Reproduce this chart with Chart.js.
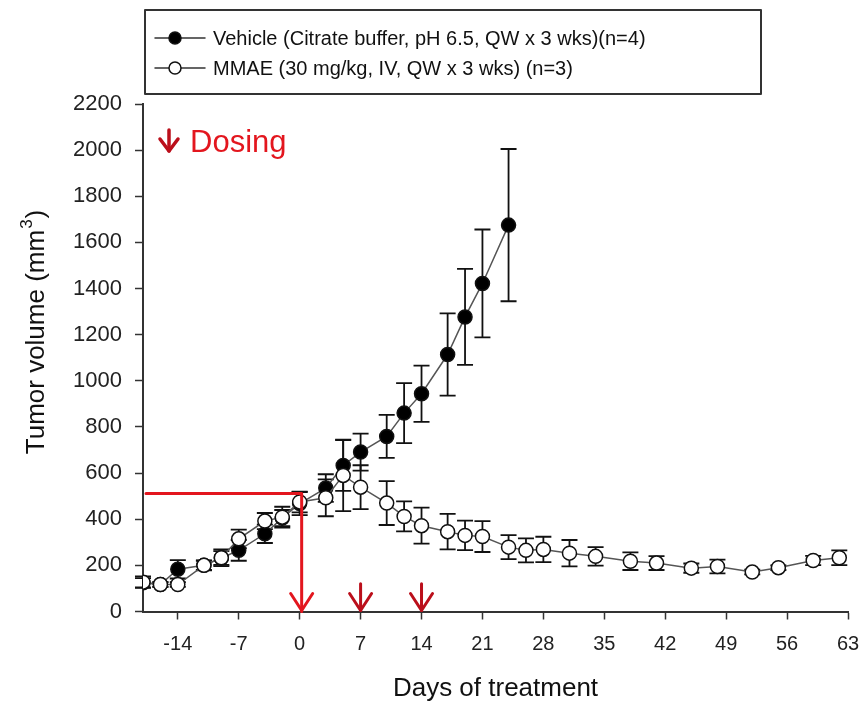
<!DOCTYPE html>
<html>
<head>
<meta charset="utf-8">
<script src="https://cdn.jsdelivr.net/npm/chart.js@4/dist/chart.umd.min.js"></script>
<style>
  html, body { margin: 0; padding: 0; background: #fff; }
  #wrap { width: 862px; height: 704px; position: relative; }
</style>
</head>
<body>
<div id="wrap"><canvas id="chart" width="862" height="704"></canvas></div>
<script>
// data
const vehicleDays = [-18, -16, -14, -11, -9, -7, -4, -2, 0, 3, 5, 7, 10, 12, 14, 17, 19, 21, 24]
const vehicleMean = [125, 117, 183, 200, 232, 265, 337, 405, 468, 535, 633, 691, 759, 860, 944, 1114, 1277, 1422, 1675]
const vehicleErr = [20, 10, 40, 20, 30, 45, 40, 35, 50, 60, 110, 80, 93, 130, 122, 178, 208, 234, 330]

const mmaeDays = [-18, -16, -14, -11, -9, -7, -4, -2, 0, 3, 5, 7, 10, 12, 14, 17, 19, 21, 24, 26, 28, 31, 34, 38, 41, 45, 48, 52, 55, 59, 62]
const mmaeMean = [127, 117, 117, 200, 233, 315, 392, 409, 475, 493, 590, 539, 470, 412, 372, 346, 330, 325, 279, 265, 269, 253, 239, 218, 210, 188, 195, 171, 190, 221, 233]
const mmaeErr = [25, 10, 10, 22, 36, 40, 35, 45, 45, 80, 155, 95, 95, 65, 78, 77, 64, 67, 52, 52, 55, 57, 40, 38, 30, 20, 30, 10, 10, 20, 32]

const xTicks = [-14, -7, 0, 7, 14, 21, 28, 35, 42, 49, 56, 63]
const doseDays = [0, 7, 14]
const doseLevel = 512      // red guide line on day 0
const doseArrowLen = 120   // small arrows, in mm3

const legendLabels = [
  'Vehicle (Citrate buffer, pH 6.5, QW x 3 wks)(n=4)',
  'MMAE (30 mg/kg, IV, QW x 3 wks) (n=3)'
]

const FONT = "'Liberation Sans', Arial, sans-serif"
const RED = '#e3161e'
const DARKRED = '#bb0f1b'

Chart.defaults.font.family = FONT
Chart.defaults.color = '#222'

const toPoints = (xs, ys) => xs.map((x, i) => ({ x: x, y: ys[i] }))

// error bars under the lines/markers
const errorBars = {
  id: 'errorBars',
  beforeDatasetsDraw(chart) {
    const { ctx, scales: { x, y } } = chart
    const sets = [[vehicleDays, vehicleMean, vehicleErr], [mmaeDays, mmaeMean, mmaeErr]]
    ctx.save()
    ctx.strokeStyle = '#111'
    ctx.lineWidth = 1.8
    sets.forEach(([d, m, e]) => {
      d.forEach((day, i) => {
        const px = x.getPixelForValue(day)
        const top = y.getPixelForValue(m[i] + e[i])
        const bot = y.getPixelForValue(Math.max(0, m[i] - e[i]))
        ctx.beginPath()
        ctx.moveTo(px, top); ctx.lineTo(px, bot)
        ctx.moveTo(px - 8, top); ctx.lineTo(px + 8, top)
        ctx.moveTo(px - 8, bot); ctx.lineTo(px + 8, bot)
        ctx.stroke()
      })
    })
    ctx.restore()
  }
}

function arrowHead(ctx, px, py) {
  ctx.beginPath()
  ctx.moveTo(px - 11, py - 17)
  ctx.lineTo(px, py)
  ctx.lineTo(px + 11, py - 17)
  ctx.stroke()
}

// dosing marks, legend box and y title
const extras = {
  id: 'extras',
  afterDraw(chart) {
    const { ctx, chartArea: ca, scales: { x, y } } = chart
    ctx.save()
    ctx.lineCap = 'round'
    ctx.lineJoin = 'round'

    // day 0 guide line + arrow
    const x0 = x.getPixelForValue(doseDays[0])
    const yd = y.getPixelForValue(doseLevel)
    const yb = y.getPixelForValue(0)
    ctx.strokeStyle = RED
    ctx.lineWidth = 3
    ctx.beginPath()
    ctx.moveTo(ca.left + 3, yd); ctx.lineTo(x0 + 2, yd); ctx.lineTo(x0 + 2, yb)
    ctx.stroke()
    arrowHead(ctx, x0 + 2, yb - 1)

    ctx.strokeStyle = DARKRED
    doseDays.slice(1).forEach(d => {
      const px = x.getPixelForValue(d)
      ctx.beginPath()
      ctx.moveTo(px, y.getPixelForValue(doseArrowLen)); ctx.lineTo(px, yb - 1)
      ctx.stroke()
      arrowHead(ctx, px, yb - 1)
    })

    // "Dosing" note
    const ax = ca.left + 26, ay = ca.top + 26
    ctx.lineWidth = 3.5
    ctx.beginPath()
    ctx.moveTo(ax, ay); ctx.lineTo(ax, ay + 21)
    ctx.stroke()
    ctx.beginPath()
    ctx.moveTo(ax - 9, ay + 9); ctx.lineTo(ax, ay + 21); ctx.lineTo(ax + 9, ay + 9)
    ctx.stroke()
    ctx.fillStyle = RED
    ctx.font = `31px ${FONT}`
    ctx.textBaseline = 'alphabetic'
    ctx.fillText('Dosing', ax + 21, ay + 22)

    // legend
    ctx.strokeStyle = '#333'
    ctx.lineWidth = 2
    ctx.strokeRect(145, 10, 616, 84)
    const rows = [38, 68]
    rows.forEach((ry, i) => {
      ctx.strokeStyle = '#333'
      ctx.lineWidth = 1.5
      ctx.beginPath()
      ctx.moveTo(155, ry); ctx.lineTo(205, ry)
      ctx.stroke()
      ctx.beginPath()
      ctx.arc(175, ry, 6, 0, Math.PI * 2)
      ctx.fillStyle = i === 0 ? '#000' : '#fff'
      ctx.fill()
      ctx.strokeStyle = '#111'
      ctx.stroke()
      ctx.fillStyle = '#111'
      ctx.font = `20px ${FONT}`
      ctx.textBaseline = 'middle'
      ctx.fillText(legendLabels[i], 213, ry + 1)
    })

    // y axis title with superscript
    ctx.translate(37, 333)
    ctx.rotate(-Math.PI / 2)
    ctx.fillStyle = '#111'
    ctx.textBaseline = 'middle'
    const main = 'Tumor volume (mm'
    ctx.font = `26px ${FONT}`
    const w1 = ctx.measureText(main).width
    ctx.font = `17px ${FONT}`
    const w2 = ctx.measureText('3').width
    ctx.font = `26px ${FONT}`
    const w3 = ctx.measureText(')').width
    let sx = -(w1 + w2 + w3) / 2
    ctx.fillText(main, sx, 0)
    sx += w1
    ctx.font = `17px ${FONT}`
    ctx.fillText('3', sx + 1, -10)
    sx += w2 + 2
    ctx.font = `26px ${FONT}`
    ctx.fillText(')', sx, 0)
    ctx.restore()
  }
}

const ctx = document.getElementById('chart').getContext('2d')
const myChart = new Chart(ctx, {
  type: 'line',
  data: {
    datasets: [{
      label: legendLabels[0],
      data: toPoints(vehicleDays, vehicleMean),
      borderColor: '#555',
      borderWidth: 1.5,
      pointRadius: 7,
      pointBackgroundColor: '#000',
      pointBorderColor: '#111',
      pointBorderWidth: 1.5,
      order: 1
    }, {
      label: legendLabels[1],
      data: toPoints(mmaeDays, mmaeMean),
      borderColor: '#555',
      borderWidth: 1.5,
      pointRadius: 7,
      pointBackgroundColor: '#fff',
      pointBorderColor: '#111',
      pointBorderWidth: 1.5,
      order: 0
    }]
  },
  options: {
    responsive: false,
    animation: false,
    layout: { padding: { top: 104, right: 14, bottom: 0, left: 0 } },
    plugins: { legend: { display: false }, tooltip: { enabled: false } },
    scales: {
      x: {
        type: 'linear',
        min: -18,
        max: 63,
        afterBuildTicks: scale => { scale.ticks = xTicks.map(v => ({ value: v })) },
        afterFit: scale => {
          scale.height = 92.5
          scale.paddingLeft = 0
          scale.paddingRight = 0
        },
        grid: { drawOnChartArea: false, tickLength: 8, tickColor: '#333', tickWidth: 1.5 },
        border: { color: '#333', width: 2 },
        ticks: { font: { size: 20 }, color: '#222', padding: 13, maxRotation: 0 },
        title: { display: true, text: 'Days of treatment', font: { size: 26 }, color: '#111', padding: { bottom: 0 } }
      },
      y: {
        min: 0,
        max: 2200,
        afterFit: scale => { scale.width = 143 },
        grid: { drawOnChartArea: false, tickLength: 8, tickColor: '#333', tickWidth: 1.5 },
        border: { color: '#333', width: 2 },
        ticks: { stepSize: 200, font: { size: 22 }, color: '#222', padding: 13, callback: v => String(v) }
      }
    }
  },
  plugins: [errorBars, extras]
})
</script>
</body>
</html>
